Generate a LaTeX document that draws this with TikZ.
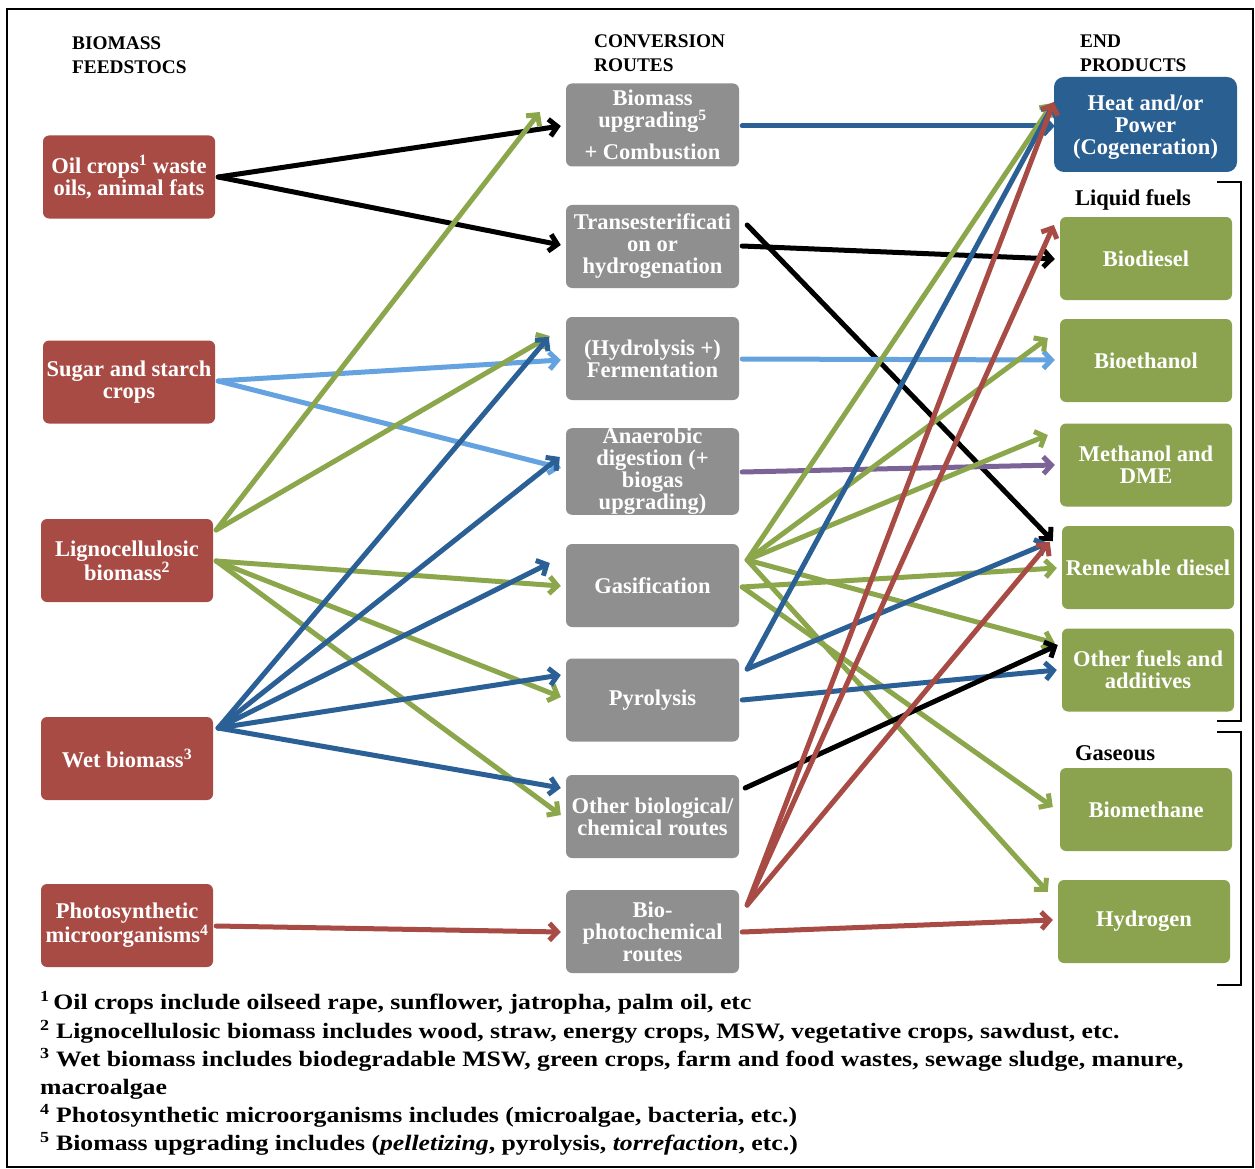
\documentclass[tikz,border=0pt]{standalone}
\usepackage{fontspec}
\setmainfont{Liberation Serif}
\newfontfamily\fnfont{Liberation Serif}[FakeStretch=1.17]
\usetikzlibrary{arrows.meta,calc}
\definecolor{rboxc}{RGB}{168,75,69}
\definecolor{gboxc}{RGB}{143,143,143}
\definecolor{bboxc}{RGB}{42,95,145}
\definecolor{grboxc}{RGB}{139,162,78}
\definecolor{cgreen}{RGB}{139,166,75}
\definecolor{cdblue}{RGB}{42,96,150}
\definecolor{clblue}{RGB}{100,163,223}
\definecolor{cpurple}{RGB}{123,99,151}
\definecolor{cred}{RGB}{168,75,69}
\begin{document}
\begin{tikzpicture}[x=1pt,y=-1pt,
  box/.style={rounded corners=6pt, minimum width=172pt, minimum height=83pt, inner sep=0pt, text=white, align=center, font=\bfseries\fontsize{22.5}{22}\selectfont},
  redbox/.style={box, fill=rboxc},
  graybox/.style={box, fill=gboxc, minimum width=173pt},
  greenbox/.style={box, fill=grboxc},
  hdr/.style={anchor=base west, inner sep=0pt, font=\bfseries\fontsize{19.3}{24}\selectfont},
  grp/.style={anchor=base west, inner sep=0pt, font=\bfseries\fontsize{22.5}{22}\selectfont},
  fn/.style={anchor=base west, inner sep=0pt, font=\fnfont\bfseries\fontsize{22}{28}\selectfont},
  conn/.style={line width=5pt, line cap=round, -{Straight Barb[length=8pt,width=17pt,line cap=butt]}},
]
\fill[white] (0,0) rectangle (1255,1169);
\useasboundingbox (0,0) rectangle (1255,1169);
\draw[line width=2pt] (7,9) rectangle (1253,1167);

% headers
\node[hdr] (h1a) at (72,50) {BIOMASS};
\node[hdr] (h1b) at (72,74) {FEEDSTOCS};
\node[hdr] (h2a) at (594,48) {CONVERSION};
\node[hdr] (h2b) at (594,72) {ROUTES};
\node[hdr] (h3a) at (1080,48) {END};
\node[hdr] (h3b) at (1080,72) {PRODUCTS};

% feedstocks
\node[redbox] (oil) at (129,177) {Oil crops\textsuperscript{1} waste\\oils, animal fats};
\node[redbox] (sugar) at (129,382) {Sugar and starch\\crops};
\node[redbox] (ligno) at (127,560.5) {Lignocellulosic\\biomass\textsuperscript{2}};
\node[redbox] (wet) at (127,758.5) {Wet biomass\textsuperscript{3}};
\node[redbox] (photo) at (127,925.5) {Photosynthetic\\microorganisms\textsuperscript{4}};

% conversion routes
\node[graybox] (upg) at (652.5,125) {Biomass\\upgrading\textsuperscript{5}\\[10pt]+ Combustion};
\node[graybox] (trans) at (652.5,246.5) {Transesterificati\\on or\\hydrogenation};
\node[graybox] (hyd) at (652.5,358.5) {(Hydrolysis +)\\Fermentation};
\node[graybox] (anaer) at (652.5,471.5) {Anaerobic\\digestion (+\\biogas\\upgrading)};
\node[graybox] (gas) at (652.5,585.5) {Gasification};
\node[graybox] (pyro) at (652.5,700) {Pyrolysis};
\node[graybox] (other) at (652.5,816.5) {Other biological/\\chemical routes};
\node[graybox] (biophoto) at (652.5,931.5) {Bio-\\photochemical\\routes};

% end products
\node[box, fill=bboxc, minimum width=183pt, minimum height=95pt, rounded corners=10pt] (heat) at (1145.5,124.5) {};
\node[box, minimum width=0pt, minimum height=0pt] (heattxt) at (1145.5,127.5) {Heat and/or\\Power\\(Cogeneration)};
\node[grp] (liq) at (1075,205) {Liquid fuels};
\node[greenbox] (biodiesel) at (1146,258.5) {Biodiesel};
\node[greenbox] (bioeth) at (1146,360.5) {Bioethanol};
\node[greenbox] (meth) at (1146,465) {Methanol and\\DME};
\node[greenbox] (renew) at (1148,567.5) {Renewable diesel};
\node[greenbox] (ofuel) at (1148,670) {Other fuels and\\additives};
\node[grp] (gaseous) at (1075,760) {Gaseous};
\node[greenbox] (biometh) at (1146,809.5) {Biomethane};
\node[greenbox] (hydro) at (1144,921.5) {Hydrogen};

% brackets
\draw[line width=1.5pt] (1217,182) -- (1241,182) -- (1241,721) -- (1217,721);
\draw[line width=1.5pt] (1217,732) -- (1241,732) -- (1241,985) -- (1217,985);

% start points
\coordinate (oilS) at ($(oil.east)+(3,0)$);
\coordinate (lignoA) at ($(ligno.east)+(3,-30.5)$);
\coordinate (lignoB) at ($(ligno.east)+(3,0.5)$);
\coordinate (sugarS) at ($(sugar.east)+(3,-1)$);
\coordinate (wetS) at ($(wet.east)+(5,-30.5)$);
\coordinate (photoS) at ($(photo.east)+(3,0.5)$);
\coordinate (upgS) at ($(upg.east)+(3,1)$);
\coordinate (transA) at ($(trans.east)+(3,-0.5)$);
\coordinate (transB) at ($(trans.east)+(8,-21.5)$);
\coordinate (hydS) at ($(hyd.east)+(3,0.5)$);
\coordinate (anaerS) at ($(anaer.east)+(3,0.5)$);
\coordinate (gasA) at ($(gas.east)+(8,-25.5)$);
\coordinate (gasB) at ($(gas.east)+(3,1.5)$);
\coordinate (pyroA) at ($(pyro.east)+(8,-31)$);
\coordinate (pyroB) at ($(pyro.east)+(3,0)$);
\coordinate (otherS) at ($(other.east)+(6,-28.5)$);
\coordinate (bpA) at ($(biophoto.east)+(8,-26.5)$);
\coordinate (bpB) at ($(biophoto.east)+(3,0.5)$);

% feedstock -> routes
\draw[conn, black] (oilS) -- ($(upg.west)+(-5,1)$);
\draw[conn, black] (oilS) -- ($(trans.west)+(-5,-1.5)$);
\draw[conn, clblue] (sugarS) -- ($(hyd.west)+(-5,1.5)$);
\draw[conn, clblue] (sugarS) -- ($(anaer.west)+(-5,-3.5)$);
\draw[conn, cgreen] (lignoA) -- ($(upg.west)+(-26,-13)$);
\draw[conn, cgreen] (lignoA) -- ($(hyd.west)+(-16,-22.5)$);
\draw[conn, cgreen] (lignoB) -- ($(gas.west)+(-5,0.5)$);
\draw[conn, cgreen] (lignoB) -- ($(pyro.west)+(-5,-3)$);
\draw[conn, cgreen] (lignoB) -- ($(other.west)+(-5,-1.5)$);
\draw[conn, cdblue] (wetS) -- ($(hyd.west)+(-17,-21.5)$);
\draw[conn, cdblue] (wetS) -- ($(anaer.west)+(-6,-14.5)$);
\draw[conn, cdblue] (wetS) -- ($(gas.west)+(-16,-22.5)$);
\draw[conn, cdblue] (wetS) -- ($(pyro.west)+(-5,-25)$);
\draw[conn, cdblue] (wetS) -- ($(other.west)+(-5,-28.5)$);
\draw[conn, cred] (photoS) -- ($(biophoto.west)+(-5,0.5)$);

% routes -> products
\draw[conn, cdblue] (upgS) -- ($(heat.west)+(1,1.5)$);
\draw[conn, black] (transA) -- ($(biodiesel.west)+(-5,0.5)$);
\draw[conn, black] (transB) -- ($(renew.west)+(-9,-26.5)$);
\draw[conn, clblue] (hydS) -- ($(bioeth.west)+(-5,-0.5)$);
\draw[conn, cpurple] (anaerS) -- ($(meth.west)+(-5,0)$);
\draw[conn, cgreen] (gasA) -- ($(heat.west)+(-1,-21.5)$);
\draw[conn, cgreen] (gasA) -- ($(bioeth.west)+(-12,-22.5)$);
\draw[conn, cgreen] (gasA) -- ($(meth.west)+(-12,-30)$);
\draw[conn, cgreen] (gasA) -- ($(ofuel.west)+(-7,-27)$);
\draw[conn, cgreen] (gasA) -- ($(hydro.west)+(-10,-29.5)$);
\draw[conn, cgreen] (gasB) -- ($(renew.west)+(-5,0.5)$);
\draw[conn, cgreen] (gasB) -- ($(biometh.west)+(-7,-2.5)$);
\draw[conn, cdblue] (pyroA) -- ($(heat.west)+(0,-21)$);
\draw[conn, cdblue] (pyroA) -- ($(renew.west)+(-14,-24.5)$);
\draw[conn, cdblue] (pyroB) -- ($(ofuel.west)+(-5,0)$);
\draw[conn, black] (otherS) -- ($(ofuel.west)+(-4,-25)$);
\draw[conn, cred] (bpA) -- ($(heat.west)+(0,-22.5)$);
\draw[conn, cred] (bpA) -- ($(biodiesel.west)+(-6,-33.5)$);
\draw[conn, cred] (bpA) -- ($(renew.west)+(-12,-25.5)$);
\draw[conn, cred] (bpB) -- ($(hydro.west)+(-5,-1.5)$);

% footnotes
\node[fn] (fn1) at (40,1009) {\textsuperscript{1}\,Oil crops include oilseed rape, sunflower, jatropha, palm oil, etc};
\node[fn] (fn2) at (40,1038) {\textsuperscript{2} Lignocellulosic biomass includes wood, straw, energy crops, MSW, vegetative crops, sawdust, etc.};
\node[fn] (fn3) at (40,1066) {\textsuperscript{3} Wet biomass includes biodegradable MSW, green crops, farm and food wastes, sewage sludge, manure,};
\node[fn] (fn4) at (40,1094) {macroalgae};
\node[fn] (fn5) at (40,1122) {\textsuperscript{4} Photosynthetic microorganisms includes (microalgae, bacteria, etc.)};
\node[fn] (fn6) at (40,1150) {\textsuperscript{5} Biomass upgrading includes (\textit{pelletizing}, pyrolysis, \textit{torrefaction}, etc.)};
\end{tikzpicture}
\end{document}
